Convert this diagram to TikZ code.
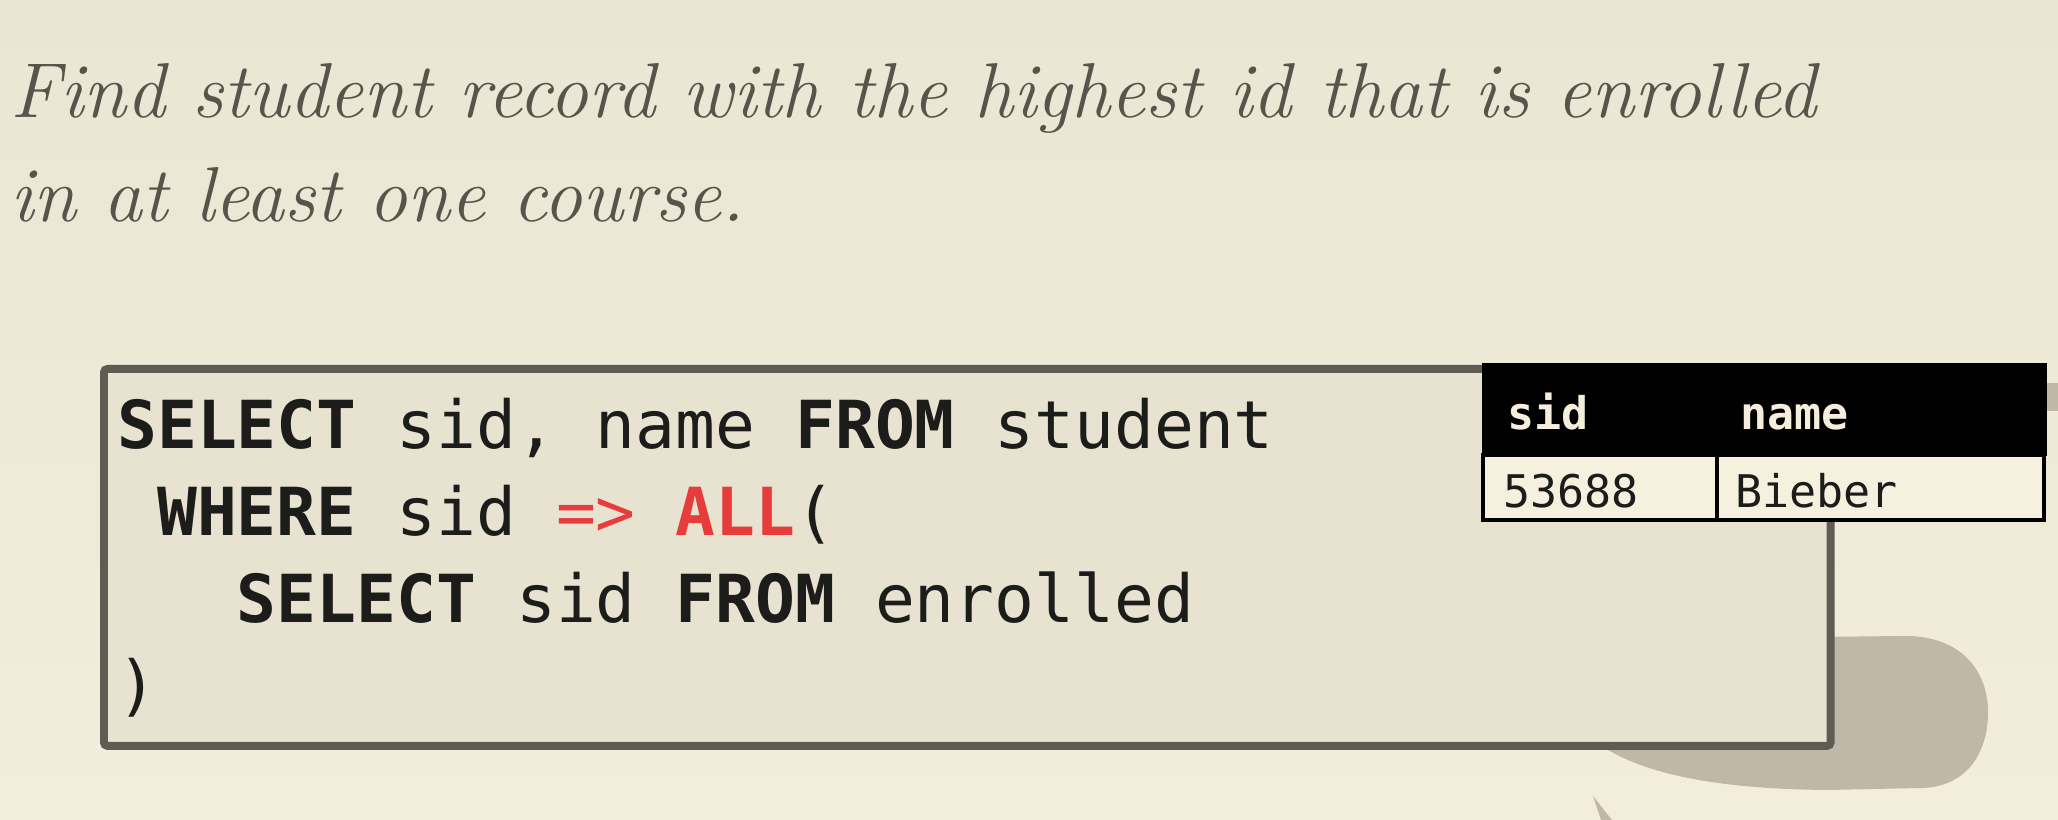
\documentclass[tikz,border=0pt]{standalone}
\usepackage{fontspec}
\setmonofont{DejaVu Sans Mono}
\usepackage{tikz}
\usepackage{xcolor}
\usetikzlibrary{positioning}
\definecolor{bgtop}{RGB}{235, 229, 211}
\definecolor{bgbottom}{RGB}{243, 237, 221}
\definecolor{blob}{RGB}{191, 184, 169}
\definecolor{frame}{RGB}{95, 92, 84}
\definecolor{paper}{RGB}{232, 226, 208}
\definecolor{cell}{RGB}{246, 240, 223}
\definecolor{ink}{RGB}{28, 28, 26}
\definecolor{prose}{RGB}{87, 84, 76}
\definecolor{hot}{RGB}{230, 60, 60}
\definecolor{headink}{RGB}{245, 238, 220}
\tikzstyle{codebox} = [
    rectangle,
    rounded corners=2pt,
    line width=4.5pt,
    draw=frame,
    fill=paper,
    anchor=north west,
    minimum width=34.54cm,
    minimum height=7.54cm
]
\tikzstyle{codeline} = [
    anchor=base west,
    inner sep=0pt,
    text=ink,
    font=\ttfamily\fontsize{37.7}{49.2}\selectfont
]
\tikzstyle{tabcell} = [
    rectangle,
    draw=black,
    line width=2pt,
    fill=cell,
    outer sep=0pt,
    anchor=north west,
    minimum height=1.30cm
]
\tikzstyle{tabtext} = [
    anchor=base west,
    inner sep=0pt,
    font=\ttfamily\fontsize{25.6}{30}\selectfont
]

\begin{document}
\begin{tikzpicture}[x=0.02cm, y=-0.02cm]
    \useasboundingbox (0,0) rectangle (2058,820);
    \shade[top color=bgtop, bottom color=bgbottom] (0,0) rectangle (2058,820);

    % grey marks behind the boxes
    \fill[blob] (1560,745) -- (1560,640) -- (1900,636)
        .. controls (1962,634) and (1988,672) .. (1988,712)
        .. controls (1988,758) and (1962,788) .. (1920,788)
        -- (1827,790)
        .. controls (1720,789) and (1645,775) .. (1600,745) -- cycle;
    \fill[blob] (1990,383) rectangle (2058,411);
    \fill[blob] (1593,796) .. controls (1597,808) .. (1601,820)
        -- (1612,820) .. controls (1604,810) .. (1593,796) -- cycle;

    % question
    \node[anchor=base west, inner sep=0pt, align=left, text=prose,
        font=\itshape\fontsize{44.3}{59.7}\selectfont] (task) at (10,222)
        {Find student record with the highest id that is enrolled\\
         in at least one course.};

    % query
    \node[codebox] (query) at (100,365) {};
    \node[codeline] (l1) at (117,449)
        {\bfseries SELECT\mdseries{} sid, name \bfseries FROM\mdseries{} student};
    \node[codeline] (l2) at (117,535.5)
        {~\bfseries WHERE\mdseries{} sid {\color{hot}=> \bfseries ALL}(};
    \node[codeline] (l3) at (117,622)
        {~~~\bfseries SELECT\mdseries{} sid \bfseries FROM\mdseries{} enrolled};
    \node[codeline] (l4) at (117,708.5) {)};

    % result table
    \node[rectangle, fill=black, draw=black, line width=1pt, anchor=north west,
        minimum width=11.26cm, minimum height=1.82cm] (head) at (1482,363) {};
    \node[tabcell, minimum width=4.68cm] (sidcell) at (1483,455) {};
    \node[tabcell, minimum width=6.54cm, right=0pt of sidcell] (namecell) {};
    \node[tabtext, text=headink] (sidhead) at (1507,430) {\bfseries sid};
    \node[tabtext, text=headink] (namehead) at (1740,430) {\bfseries name};
    \node[tabtext, text=ink] (sidval) at (1503,507) {53688};
    \node[tabtext, text=ink] (nameval) at (1735,507) {Bieber};
\end{tikzpicture}
\end{document}
